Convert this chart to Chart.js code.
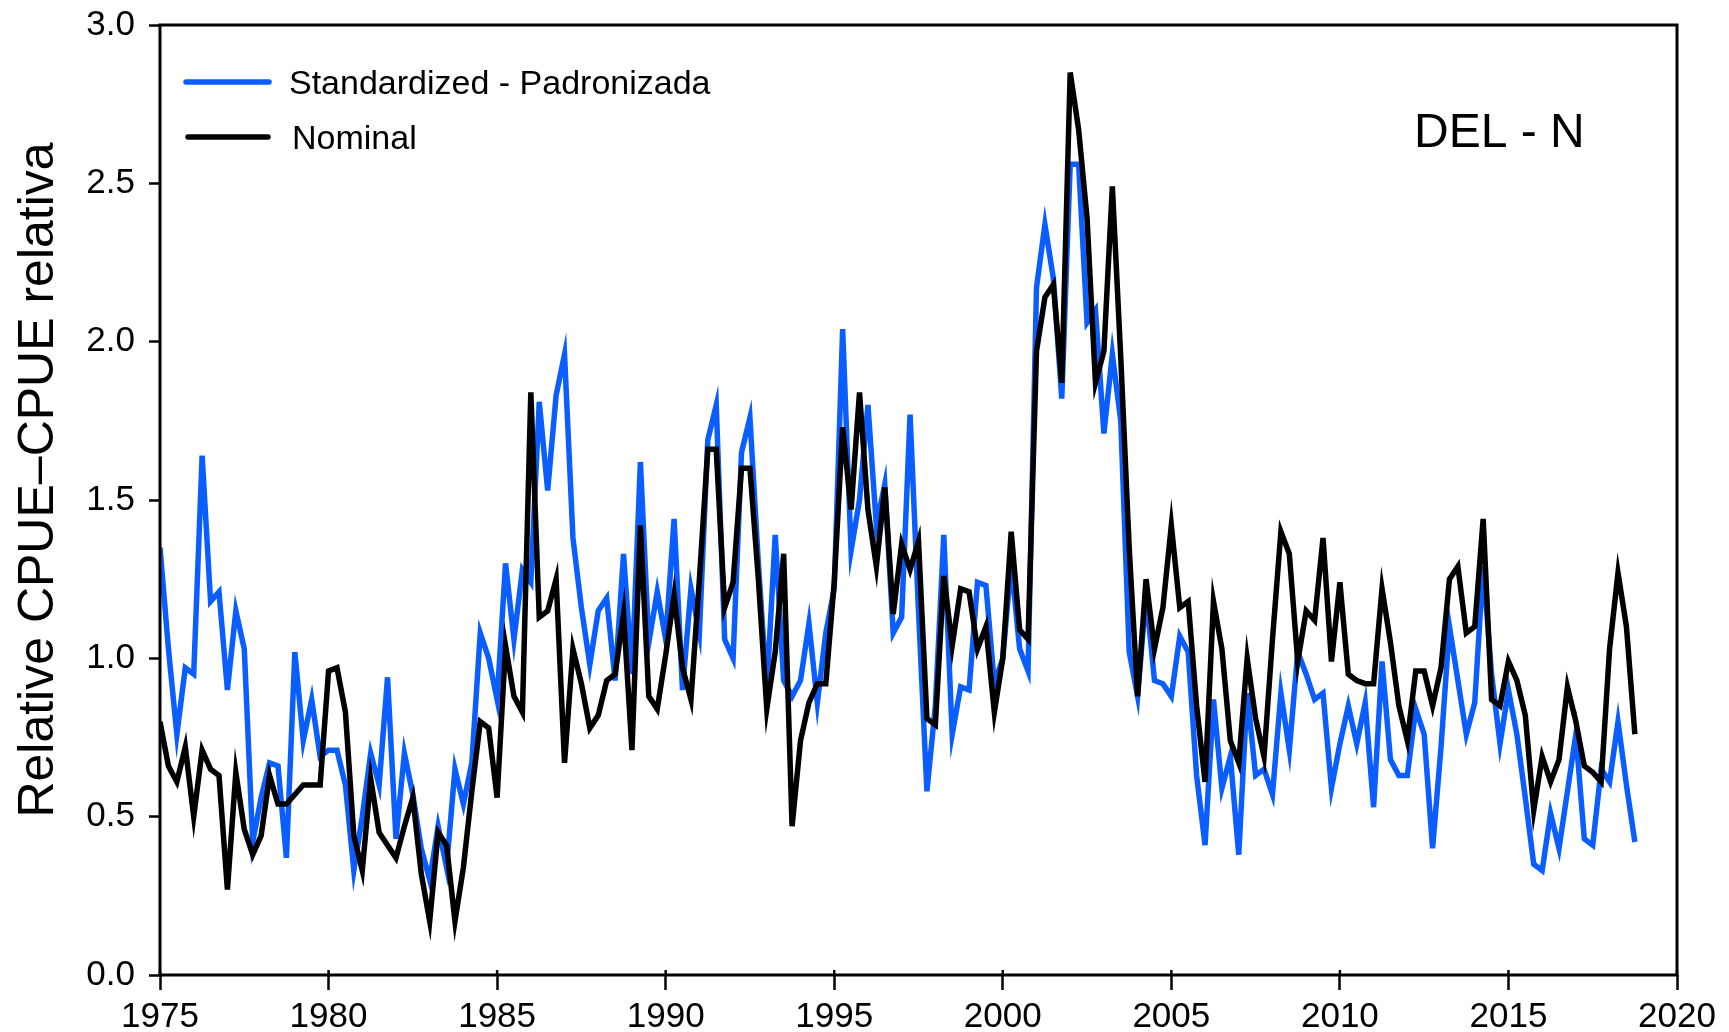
<!DOCTYPE html>
<html>
<head>
<meta charset="utf-8">
<title>DEL - N relative CPUE</title>
<script src="https://cdn.jsdelivr.net/npm/chart.js@4.4.1/dist/chart.umd.min.js"></script>
<style>
  html, body { margin: 0; padding: 0; background: #ffffff; }
  #wrap { width: 1729px; height: 1032px; position: relative; }
</style>
</head>
<body>
<div id="wrap"><canvas id="cpue"></canvas></div>
<script>
// Quarterly relative CPUE, first quarter of 1975 to last quarter of 2018
const firstYear = 1975;

const standardized = [
  1.35, 1.03, 0.76, 0.97, 0.95, 1.64, 1.18, 1.21,   // 1975-1976
  0.90, 1.15, 1.03, 0.42, 0.56, 0.67, 0.66, 0.37,   // 1977-1978
  1.02, 0.74, 0.87, 0.69, 0.71, 0.71, 0.60, 0.33,   // 1979-1980
  0.50, 0.70, 0.60, 0.94, 0.43, 0.70, 0.57, 0.40,   // 1981-1982
  0.30, 0.47, 0.34, 0.65, 0.54, 0.67, 1.08, 1.00,   // 1983-1984
  0.87, 1.30, 1.06, 1.28, 1.24, 1.81, 1.53, 1.83,   // 1985-1986
  1.96, 1.38, 1.16, 0.98, 1.15, 1.19, 0.93, 1.33,   // 1987-1988
  0.95, 1.62, 1.05, 1.21, 1.06, 1.44, 0.90, 1.22,   // 1989-1990
  1.08, 1.69, 1.80, 1.06, 1.00, 1.65, 1.76, 1.30,   // 1991-1992
  0.90, 1.39, 0.93, 0.88, 0.93, 1.11, 0.86, 1.08,   // 1993-1994
  1.22, 2.04, 1.34, 1.50, 1.80, 1.42, 1.55, 1.08,   // 1995-1996
  1.13, 1.77, 1.15, 0.58, 0.85, 1.39, 0.76, 0.91,   // 1997-1998
  0.90, 1.24, 1.23, 0.92, 1.00, 1.30, 1.03, 0.96,   // 1999-2000
  2.17, 2.37, 2.20, 1.82, 2.56, 2.56, 2.06, 2.10,   // 2001-2002
  1.71, 1.96, 1.75, 1.02, 0.88, 1.20, 0.93, 0.92,   // 2003-2004
  0.88, 1.07, 1.02, 0.63, 0.41, 0.87, 0.59, 0.69,   // 2005-2006
  0.38, 0.89, 0.63, 0.65, 0.57, 0.89, 0.71, 1.02,   // 2007-2008
  0.95, 0.87, 0.89, 0.59, 0.73, 0.85, 0.73, 0.86,   // 2009-2010
  0.53, 0.99, 0.68, 0.63, 0.63, 0.84, 0.76, 0.40,   // 2011-2012
  0.72, 1.10, 0.93, 0.76, 0.86, 1.29, 0.95, 0.73,   // 2013-2014
  0.90, 0.76, 0.56, 0.35, 0.33, 0.51, 0.40, 0.58,   // 2015-2016
  0.76, 0.43, 0.41, 0.65, 0.61, 0.80, 0.60, 0.42    // 2017-2018
];

const nominal = [
  0.80, 0.66, 0.61, 0.72, 0.50, 0.71, 0.65, 0.63,   // 1975-1976
  0.27, 0.64, 0.46, 0.38, 0.44, 0.63, 0.54, 0.54,   // 1977-1978
  0.57, 0.60, 0.60, 0.60, 0.96, 0.97, 0.83, 0.44,   // 1979-1980
  0.33, 0.62, 0.45, 0.41, 0.37, 0.47, 0.56, 0.32,   // 1981-1982
  0.17, 0.45, 0.41, 0.17, 0.34, 0.58, 0.80, 0.78,   // 1983-1984
  0.56, 1.04, 0.88, 0.83, 1.84, 1.13, 1.15, 1.25,   // 1985-1986
  0.67, 1.03, 0.92, 0.78, 0.82, 0.93, 0.95, 1.14,   // 1987-1988
  0.71, 1.42, 0.88, 0.84, 1.01, 1.20, 0.97, 0.87,   // 1989-1990
  1.25, 1.66, 1.66, 1.16, 1.24, 1.60, 1.60, 1.25,   // 1991-1992
  0.84, 1.02, 1.33, 0.47, 0.74, 0.86, 0.92, 0.92,   // 1993-1994
  1.24, 1.73, 1.47, 1.84, 1.47, 1.29, 1.54, 1.14,   // 1995-1996
  1.36, 1.28, 1.37, 0.81, 0.79, 1.26, 1.04, 1.22,   // 1997-1998
  1.21, 1.03, 1.10, 0.83, 1.00, 1.40, 1.09, 1.06,   // 1999-2000
  1.97, 2.14, 2.18, 1.87, 2.85, 2.67, 2.39, 1.87,   // 2001-2002
  1.97, 2.49, 1.95, 1.35, 0.88, 1.25, 1.03, 1.16,   // 2003-2004
  1.42, 1.16, 1.18, 0.85, 0.61, 1.18, 1.03, 0.74,   // 2005-2006
  0.67, 1.00, 0.81, 0.69, 1.06, 1.40, 1.33, 0.99,   // 2007-2008
  1.15, 1.12, 1.38, 0.99, 1.24, 0.95, 0.93, 0.92,   // 2009-2010
  0.92, 1.22, 1.05, 0.85, 0.74, 0.96, 0.96, 0.85,   // 2011-2012
  0.97, 1.25, 1.29, 1.08, 1.10, 1.44, 0.87, 0.85,   // 2013-2014
  0.99, 0.93, 0.82, 0.52, 0.69, 0.61, 0.68, 0.91,   // 2015-2016
  0.80, 0.66, 0.64, 0.61, 1.03, 1.27, 1.10, 0.76    // 2017-2018
];

// Quarter positions on the time axis
const quarters = standardized.map((_, i) => firstYear + i / 4);

const xTickYears = [1975, 1980, 1985, 1990, 1995, 2000, 2005, 2010, 2015, 2020];
const yTickValues = [0.0, 0.5, 1.0, 1.5, 2.0, 2.5, 3.0];

const seriesNames = ['Standardized - Padronizada', 'Nominal'];
const panelLabel = 'DEL - N';
const yTitle = 'Relative CPUE\u2013CPUE relativa';

const BLUE = '#0a5eff';
const BLACK = '#000000';
const FONT = '"Liberation Sans", Arial, Helvetica, sans-serif';

const toPoints = arr => arr.map((v, i) => ({ x: quarters[i], y: v }));

// Frame, legend, panel label and axis title
const decorations = {
  id: 'decorations',
  afterDraw(chart) {
    const { ctx, chartArea: a, scales } = chart;
    ctx.save();
    ctx.strokeStyle = BLACK;
    ctx.lineWidth = 3;
    ctx.strokeRect(a.left, a.top, a.right - a.left, a.bottom - a.top);

    // short inner part of the year ticks
    ctx.lineWidth = 2.5;
    xTickYears.forEach(yr => {
      const x = scales.x.getPixelForValue(yr);
      ctx.beginPath();
      ctx.moveTo(x, a.bottom);
      ctx.lineTo(x, a.bottom - 5);
      ctx.stroke();
    });

    // legend
    const legendRows = [
      { name: seriesNames[0], color: BLUE, x0: 186, x1: 269, ly: 82, tx: 289, ty: 94 },
      { name: seriesNames[1], color: BLACK, x0: 188, x1: 268, ly: 137, tx: 292, ty: 149 }
    ];
    legendRows.forEach(r => {
      ctx.strokeStyle = r.color;
      ctx.lineWidth = 5.5;
      ctx.lineCap = 'round';
      ctx.beginPath();
      ctx.moveTo(r.x0, r.ly);
      ctx.lineTo(r.x1, r.ly);
      ctx.stroke();
      ctx.fillStyle = BLACK;
      ctx.font = '34px ' + FONT;
      ctx.textAlign = 'left';
      ctx.textBaseline = 'alphabetic';
      ctx.fillText(r.name, r.tx, r.ty);
    });

    // panel label
    ctx.font = '48px ' + FONT;
    ctx.fillStyle = BLACK;
    ctx.fillText(panelLabel, 1414, 147);

    // y-axis title
    ctx.translate(53, 480);
    ctx.rotate(-Math.PI / 2);
    ctx.font = '50px ' + FONT;
    ctx.textAlign = 'center';
    ctx.fillText(yTitle, 0, 0);
    ctx.restore();
  }
};

new Chart(document.getElementById('cpue'), {
  type: 'line',
  data: {
    datasets: [
      {
        label: seriesNames[0],
        data: toPoints(standardized),
        borderColor: BLUE,
        borderWidth: 5.5,
        pointRadius: 0,
        tension: 0,
        fill: false,
        order: 1
      },
      {
        label: seriesNames[1],
        data: toPoints(nominal),
        borderColor: BLACK,
        borderWidth: 5.5,
        pointRadius: 0,
        tension: 0,
        fill: false,
        order: 0
      }
    ]
  },
  options: {
    responsive: true,
    maintainAspectRatio: false,
    animation: false,
    devicePixelRatio: 1,
    layout: { padding: { left: 0, top: 25, right: 52, bottom: 0 } },
    plugins: {
      legend: { display: false },
      tooltip: { enabled: false },
      title: { display: false }
    },
    scales: {
      x: {
        type: 'linear',
        min: 1975,
        max: 2020,
        afterFit(scale) { scale.height = 57; },
        afterBuildTicks(scale) { scale.ticks = xTickYears.map(v => ({ value: v })); },
        border: { display: false },
        grid: {
          drawOnChartArea: false,
          drawTicks: true,
          tickLength: 15,
          tickWidth: 2.5,
          tickColor: BLACK
        },
        ticks: {
          color: BLACK,
          padding: 6,
          maxRotation: 0,
          autoSkip: false,
          font: { family: FONT, size: 35 },
          callback: v => String(v)
        }
      },
      y: {
        type: 'linear',
        min: 0,
        max: 3,
        afterFit(scale) {
          scale.width = 160;
          scale.paddingTop = 0;
          scale.paddingBottom = 0;
        },
        afterBuildTicks(scale) { scale.ticks = yTickValues.map(v => ({ value: v })); },
        border: { display: false },
        grid: {
          drawOnChartArea: false,
          drawTicks: true,
          tickLength: 11,
          tickWidth: 2.5,
          tickColor: BLACK
        },
        ticks: {
          color: BLACK,
          padding: 14,
          font: { family: FONT, size: 35 },
          callback: v => Number(v).toFixed(1)
        }
      }
    }
  },
  plugins: [decorations]
});
</script>
</body>
</html>
